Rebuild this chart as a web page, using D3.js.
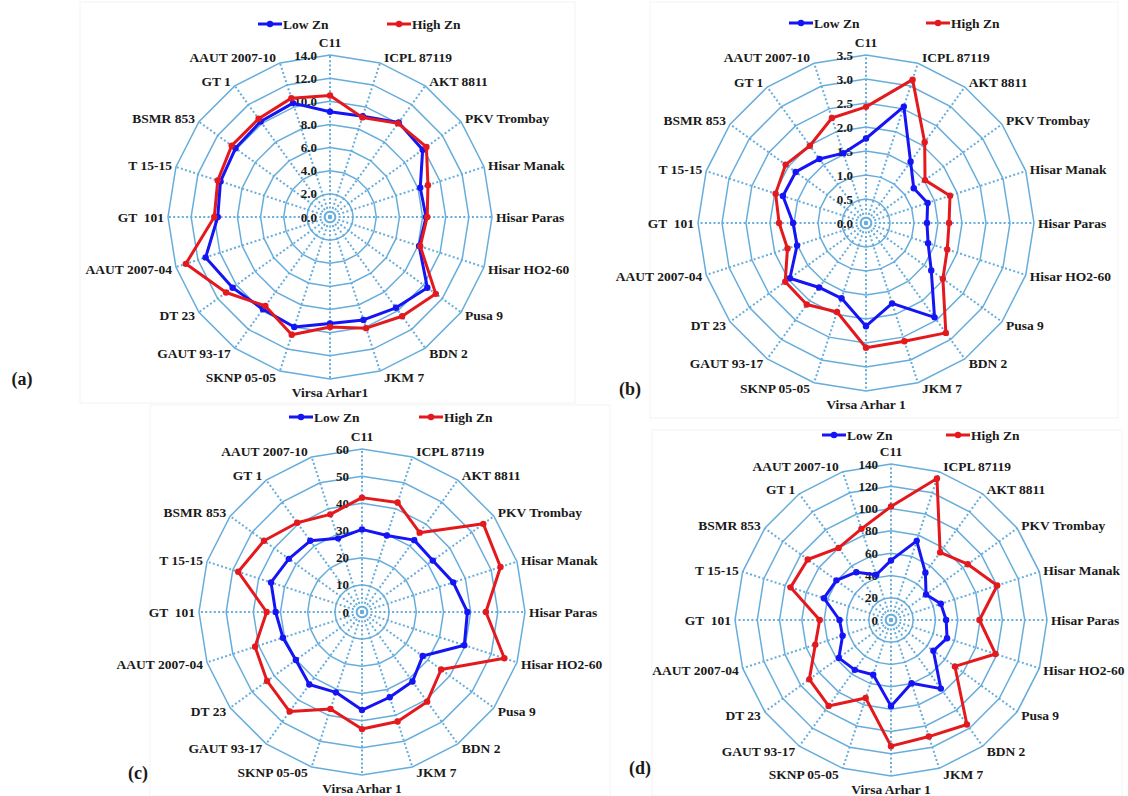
<!DOCTYPE html>
<html>
<head>
<meta charset="utf-8">
<script src="https://cdn.jsdelivr.net/npm/d3@7"></script>
<style>
  body { margin: 0; background: #fff; }
  svg text { font-family: "Liberation Serif", "Times New Roman", serif; font-weight: bold; fill: #1a1a1a; white-space: pre; }
</style>
</head>
<body>
<div id="container"></div>
<script>
/* DATA */
const categories = ["C11", "ICPL 87119", "AKT 8811", "PKV Trombay", "Hisar Manak", "Hisar Paras",
  "Hisar HO2-60", "Pusa 9", "BDN 2", "JKM 7", "Virsa Arhar 1", "SKNP 05-05", "GAUT 93-17",
  "DT 23", "AAUT 2007-04", "GT  101", "T 15-15", "BSMR 853", "GT 1", "AAUT 2007-10"];
// panel (a) writes the 11th name without the space
const categoriesA = categories.map(c => c === "Virsa Arhar 1" ? "Virsa Arhar1" : c);

const seriesNames = ["Low Zn", "High Zn"];

const lowZnA  = [9.1, 9.15, 10.1, 9.9, 8.2, 8.3, 8.1, 10.4, 9.7, 9.35, 9.2, 10.0, 9.85, 10.4, 11.3, 9.7, 9.95, 10.1, 10.2, 10.35];
const highZnA = [10.5, 9.05, 10.0, 10.3, 8.9, 8.4, 8.2, 11.3, 10.6, 10.1, 9.5, 10.7, 9.5, 11.1, 13.1, 10.0, 10.2, 10.5, 10.5, 10.8];

const lowZnB  = [1.76, 2.55, 1.58, 1.23, 1.35, 1.27, 1.36, 1.68, 2.43, 1.76, 2.15, 1.65, 1.66, 1.96, 1.51, 1.52, 1.82, 1.81, 1.65, 1.53];
const highZnB = [2.42, 3.14, 2.08, 1.52, 1.84, 1.73, 1.78, 1.98, 2.83, 2.59, 2.6, 1.95, 2.1, 2.08, 1.72, 1.81, 1.98, 2.07, 1.99, 2.3];

const lowZnC  = [30.4, 29.6, 32.7, 32.2, 35.3, 38.8, 39.6, 27.6, 31.6, 33.0, 36.1, 31.1, 33.0, 30.1, 30.6, 31.8, 35.2, 33.3, 32.4, 28.5];
const highZnC = [42.1, 42.4, 36.1, 55.2, 53.6, 45.6, 55.1, 36.0, 40.8, 42.4, 43.1, 37.5, 45.3, 43.2, 41.4, 35.1, 47.9, 44.6, 40.6, 37.8];

const lowZnD  = [53.5, 74.7, 52.5, 38.9, 47.0, 49.5, 52.9, 47.0, 76.1, 59.7, 77.3, 51.6, 55.3, 57.9, 45.7, 46.2, 63.3, 60.5, 53.0, 42.7];
const highZnD = [101.8, 133.5, 75.0, 85.2, 100.2, 79.4, 98.6, 70.9, 115.9, 110.0, 113.2, 73.6, 95.3, 90.6, 71.4, 64.0, 94.8, 92.4, 80.0, 86.0];

const ticksA = [0, 2, 4, 6, 8, 10, 12, 14];
const ticksB = [0, 0.5, 1, 1.5, 2, 2.5, 3, 3.5];
const ticksC = [0, 10, 20, 30, 40, 50, 60];
const ticksD = [0, 20, 40, 60, 80, 100, 120, 140];

const panelLetters = ["(a)", "(b)", "(c)", "(d)"];

/* LAYOUT */
const width = 1128, height = 796;
const blue = "#1414f5", red = "#e3191e", gridColor = "#67addc";

const panels = [
  {cx: 330, cy: 217, r: 162, labels: categoriesA, low: lowZnA, high: highZnA, ticks: ticksA, fmt: d3.format(".1f"),
   legendY: 24, legendX: [258, 387], letter: [22, 379], box: [80, 2, 575, 403]},
  {cx: 866, cy: 223, r: 168, labels: categories, low: lowZnB, high: highZnB, ticks: ticksB, fmt: d3.format(".1f"),
   legendY: 23, legendX: [789, 926], letter: [630, 389], box: [650, 2, 1118, 418]},
  {cx: 362, cy: 612, r: 163, labels: categories, low: lowZnC, high: highZnC, ticks: ticksC, fmt: d3.format("d"),
   legendY: 417, legendX: [289, 419], letter: [138, 773], box: [150, 405, 610, 796]},
  {cx: 891, cy: 620, r: 156, labels: categories, low: lowZnD, high: highZnD, ticks: ticksD, fmt: d3.format("d"),
   legendY: 435, legendX: [822, 946], letter: [640, 768], box: [652, 430, 1122, 796]}
];

const svg = d3.select("#container")
  .append("svg")
  .attr("width", width)
  .attr("height", height);

const n = categories.length;
const step = 2 * Math.PI / n;

panels.forEach((p, k) => drawRadar(p, k));

function drawRadar(p, k) {
  const rScale = d3.scaleLinear()
    .domain([0, d3.max(p.ticks)])
    .range([0, p.r]);

  // faint frame round each panel
  svg.append("rect")
    .attr("x", p.box[0]).attr("y", p.box[1])
    .attr("width", p.box[2] - p.box[0]).attr("height", p.box[3] - p.box[1])
    .attr("fill", "none")
    .attr("stroke", "#f3f3f3");

  const g = svg.append("g")
    .attr("transform", `translate(${p.cx}, ${p.cy})`);

  // + GRID RINGS (polygons)
  const ring = d3.lineRadial()
    .angle((d, i) => i * step)
    .radius(d => d)
    .curve(d3.curveLinearClosed);

  g.selectAll(".ring")
    .data(p.ticks.filter(t => t > 0))
    .join("path")
    .attr("class", "ring")
    .attr("d", t => ring(d3.range(n).map(() => rScale(t))))
    .attr("fill", "none")
    .attr("stroke", gridColor)
    .attr("stroke-width", 1.5);

  // + SPOKES (dotted)
  g.selectAll(".spoke")
    .data(d3.range(n))
    .join("line")
    .attr("class", "spoke")
    .attr("x1", 0).attr("y1", 0)
    .attr("x2", i => p.r * Math.sin(i * step))
    .attr("y2", i => -p.r * Math.cos(i * step))
    .attr("stroke", gridColor)
    .attr("stroke-width", 2)
    .attr("stroke-dasharray", "2,2.3");

  // + TICK LABELS
  g.selectAll(".tick")
    .data(p.ticks)
    .join("text")
    .attr("class", "tick")
    .attr("x", -13)
    .attr("y", t => -rScale(t))
    .attr("dy", "0.35em")
    .attr("text-anchor", "end")
    .style("font-size", "13px")
    .text(p.fmt);

  // + CATEGORY LABELS
  g.selectAll(".cat")
    .data(p.labels)
    .join("text")
    .attr("class", "cat")
    .style("font-size", "13.5px")
    .each(function(d, i) {
      const s = Math.sin(i * step), c = Math.cos(i * step);
      const t = d3.select(this);
      if (Math.abs(s) < 1e-6) {
        t.attr("x", 0).attr("y", -c * (p.r + 13)).attr("text-anchor", "middle");
      } else {
        t.attr("x", s * p.r + Math.sign(s) * 4)
          .attr("y", -c * p.r - c * 6)
          .attr("text-anchor", s > 0 ? "start" : "end");
      }
    })
    .attr("dy", "0.35em")
    .text(d => d);

  // + SERIES
  const line = d3.lineRadial()
    .angle((d, i) => i * step)
    .radius(d => rScale(d))
    .curve(d3.curveLinearClosed);

  [[p.low, blue], [p.high, red]].forEach(([vals, col]) => {
    g.append("path")
      .attr("d", line(vals))
      .attr("fill", "none")
      .attr("stroke", col)
      .attr("stroke-width", 3)
      .attr("stroke-linejoin", "round");

    g.selectAll(null)
      .data(vals)
      .join("circle")
      .attr("cx", (d, i) => rScale(d) * Math.sin(i * step))
      .attr("cy", (d, i) => -rScale(d) * Math.cos(i * step))
      .attr("r", 3.2)
      .attr("fill", col);
  });

  // + LEGEND
  [blue, red].forEach((col, j) => {
    const lx = p.legendX[j], ly = p.legendY;
    svg.append("line")
      .attr("x1", lx).attr("x2", lx + 24)
      .attr("y1", ly).attr("y2", ly)
      .attr("stroke", col)
      .attr("stroke-width", 3);
    svg.append("circle")
      .attr("cx", lx + 12).attr("cy", ly)
      .attr("r", 3.2)
      .attr("fill", col);
    svg.append("text")
      .attr("x", lx + 25).attr("y", ly)
      .attr("dy", "0.35em")
      .style("font-size", "13.5px")
      .text(seriesNames[j]);
  });

  // panel letter
  svg.append("text")
    .attr("x", p.letter[0]).attr("y", p.letter[1])
    .attr("dy", "0.35em")
    .attr("text-anchor", "middle")
    .style("font-size", "18px")
    .text(panelLetters[k]);
}
</script>
</body>
</html>
